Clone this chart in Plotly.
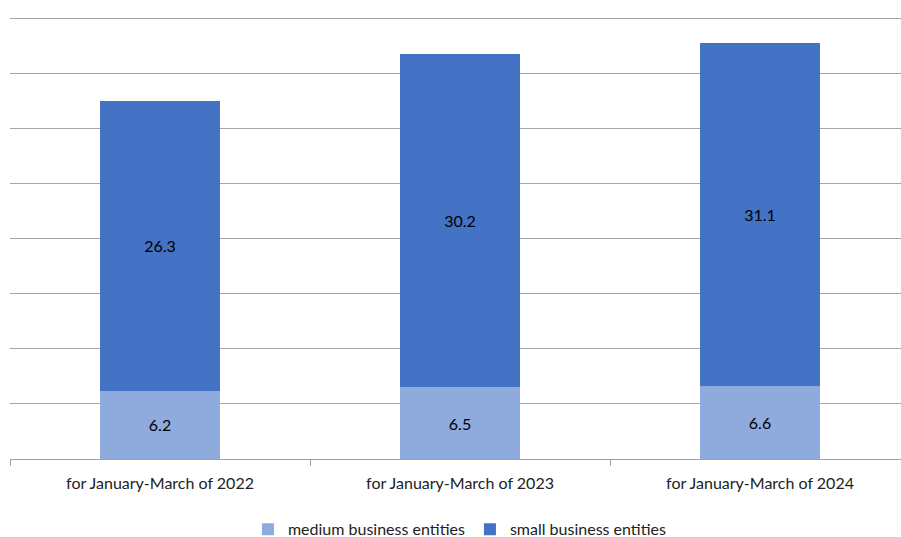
import plotly.graph_objects as go

categories = ["for January-March of 2022", "for January-March of 2023", "for January-March of 2024"]
medium = [6.2, 6.5, 6.6]
small = [26.3, 30.2, 31.1]

FONT = "Lato"

fig = go.Figure()
fig.add_trace(go.Bar(
    x=categories, y=medium, name="medium business entities",
    marker=dict(color="#8FAADC", line=dict(width=0)),
    text=[f"{v:.1f}" for v in medium], textposition="inside",
    insidetextanchor="middle", textfont=dict(color="black", size=16, family=FONT),
    width=0.4,
))
fig.add_trace(go.Bar(
    x=categories, y=small, name="small business entities",
    marker=dict(color="#4472C4", line=dict(width=0)),
    text=[f"{v:.1f}" for v in small], textposition="inside",
    insidetextanchor="middle", textfont=dict(color="black", size=16, family=FONT),
    width=0.4,
))

fig.update_layout(
    barmode="stack",
    width=901, height=537,
    margin=dict(l=10, r=0, t=17, b=78, autoexpand=False),
    plot_bgcolor="white", paper_bgcolor="white",
    font=dict(family=FONT, size=16, color="#222222"),
    showlegend=True,
    legend=dict(orientation="h", x=0.505, xanchor="center", y=-0.159, yanchor="middle",
                font=dict(size=16, family=FONT), traceorder="normal",
                itemwidth=30, tracegroupgap=0),
    bargap=0.6,
)
fig.update_xaxes(
    type="category", range=[-0.5, 2.47], automargin=False,
    showline=True, linecolor="#a0a0a0", linewidth=1,
    ticks="outside", tickson="boundaries", ticklen=6, tickcolor="#a0a0a0",
    ticklabelstandoff=10,
    showgrid=False, tickfont=dict(size=16, family=FONT, color="#222222"),
)
fig.update_yaxes(
    range=[0, 40.1], tick0=0, dtick=5, showgrid=True, gridcolor="#a6a6a6", gridwidth=1,
    showticklabels=False, zeroline=False, showline=False, ticks="", automargin=False,
)

fig.write_html(
    "out.html",
    config={"displayModeBar": False},
    post_script="document.body.style.margin='0';document.body.style.overflow='hidden';",
)
